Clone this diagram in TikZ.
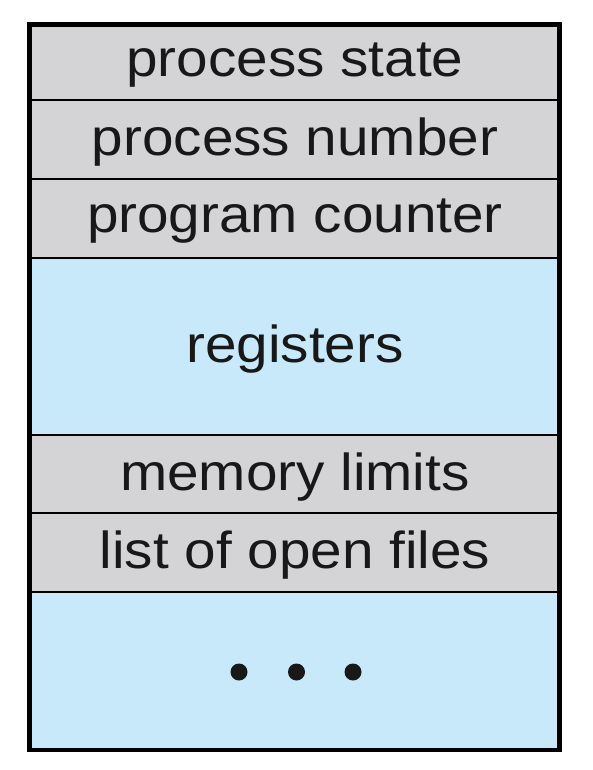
\documentclass[tikz,border=0pt]{standalone}
\usepackage{fontspec}
\setmainfont{Liberation Sans}
\definecolor{pcbgray}{RGB}{212,212,214}
\definecolor{pcbblue}{RGB}{199,233,249}
\definecolor{pcbtext}{RGB}{24,24,24}
\newcommand{\pcbwide}[1]{\scalebox{1.09}[1]{#1}}
\begin{document}
\begin{tikzpicture}[x=1pt,y=-1pt,
  cell/.style={draw=black, line width=2pt},
  lbl/.style={anchor=base, inner sep=0pt, text=pcbtext, font=\fontsize{52}{58}\selectfont},
  dot/.style={circle, fill=pcbtext, inner sep=0pt, minimum width=17pt}]
\useasboundingbox (0,0) rectangle (592,770);
% rows
\fill[pcbgray] (29.5,24.5) rectangle (559.5,100.5);
\fill[pcbgray] (29.5,100.5) rectangle (559.5,179);
\fill[pcbgray] (29.5,179) rectangle (559.5,258);
\fill[pcbblue] (29.5,258) rectangle (559.5,435);
\fill[pcbgray] (29.5,435) rectangle (559.5,512.7);
\fill[pcbgray] (29.5,512.7) rectangle (559.5,591.7);
\fill[pcbblue] (29.5,591.7) rectangle (559.5,750);
% dividers
\coordinate (l1) at (29.5,100.5); \coordinate (r1) at (559.5,100.5);
\coordinate (l2) at (29.5,179);   \coordinate (r2) at (559.5,179);
\coordinate (l3) at (29.5,258);   \coordinate (r3) at (559.5,258);
\coordinate (l4) at (29.5,435);   \coordinate (r4) at (559.5,435);
\coordinate (l5) at (29.5,512.7); \coordinate (r5) at (559.5,512.7);
\coordinate (l6) at (29.5,591.7); \coordinate (r6) at (559.5,591.7);
\foreach \i in {1,...,6} \draw[cell] (l\i) -- (r\i);
% outer border
\draw[black, line width=4.5pt] (29.5,24.5) rectangle (559.5,750);
% labels
\node[lbl] (t1) at (295,77) {\pcbwide{process state}};
\node[lbl] (t2) at (295,155.5) {\pcbwide{process number}};
\node[lbl] (t3) at (295,232.5) {\pcbwide{program counter}};
\node[lbl] (t4) at (295,362) {\pcbwide{registers}};
\node[lbl] (t5) at (295,490) {\pcbwide{memory limits}};
\node[lbl] (t6) at (295,568) {\pcbwide{list of open files}};
% dots
\node[dot] (d1) at (239,672) {};
\node[dot] (d2) at (296.5,672) {};
\node[dot] (d3) at (353,672) {};
\end{tikzpicture}
\end{document}
